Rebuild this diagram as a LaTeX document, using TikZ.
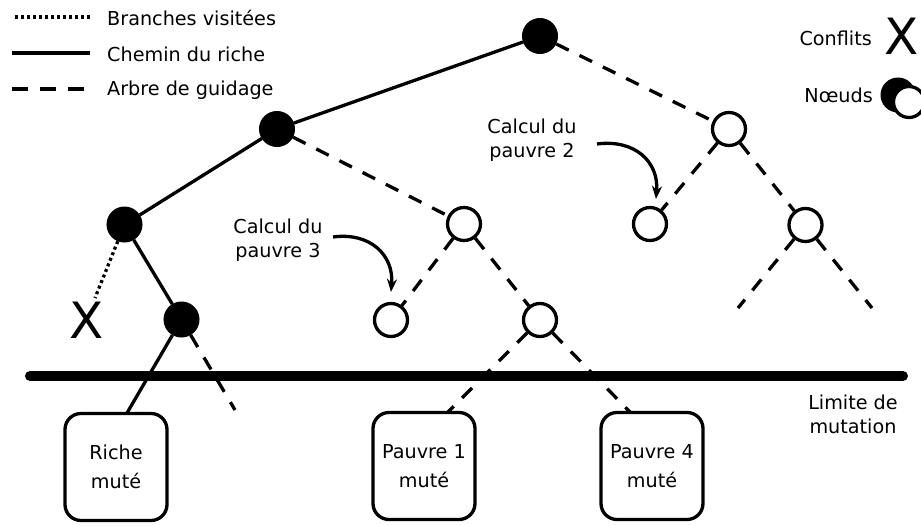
\documentclass[tikz,border=0pt]{standalone}
\usepackage{fontspec}
\setmainfont{DejaVu Sans}
\usetikzlibrary{arrows.meta}
\tikzset{
  txt/.style={font=\fontsize{19.2}{24}\selectfont, inner sep=0pt, align=center},
  bignode/.style={circle, fill=black, draw=black, line width=1pt, minimum size=35pt, inner sep=0pt},
  smallnode/.style={circle, fill=white, draw=black, line width=3.3pt, minimum size=33pt, inner sep=0pt},
  solidl/.style={line width=3.3pt},
  dashl/.style={line width=3.3pt, dash pattern=on 14pt off 12pt},
  dotl/.style={line width=3.3pt, dash pattern=on 3pt off 3pt},
  mbox/.style={draw=black, line width=3.3pt, rounded corners=16pt, minimum width=102pt, minimum height=107pt, inner sep=0pt, font=\fontsize{19.2}{28.5}\selectfont, align=center},
  conflict/.style={font=\fontsize{50}{50}\selectfont, inner sep=0pt},
  callarrow/.style={line width=3.3pt, -{Stealth[length=13pt,width=10pt]}}
}
\begin{document}
\begin{tikzpicture}[x=1pt,y=-1pt]
\useasboundingbox (0,0) rectangle (921,525);
% legend
\coordinate (l1a) at (15,17); \coordinate (l1b) at (90,17);
\coordinate (l2a) at (12,53); \coordinate (l2b) at (90,53);
\coordinate (l3a) at (12,89); \coordinate (l3b) at (92,89);
\draw[dotl] (l1a) -- (l1b);
\draw[solidl] (l2a) -- (l2b);
\draw[dashl, dash pattern=on 16pt off 12pt] (l3a) -- (l3b);
\node[txt, anchor=west] (lt1) at (107,18) {Branches visitées};
\node[txt, anchor=west] (lt2) at (107,54) {Chemin du riche};
\node[txt, anchor=west] (lt3) at (107,90) {Arbre de guidage};
\node[txt, anchor=east] (lconf) at (872,38) {Conflits};
\node[conflict] (lx) at (902,36) {X};
\node[txt, anchor=east] (lnoeud) at (873,95) {Nœuds};
\node[circle, fill=black, minimum size=35pt, inner sep=0pt] (licon1) at (898,95) {};
\node[circle, fill=white, draw=black, line width=3.3pt, minimum size=31pt, inner sep=0pt] (licon2) at (909,102) {};
% tree nodes
\node[bignode] (r) at (540,36) {};
\node[bignode] (a) at (277,129) {};
\node[bignode] (b) at (124.5,224.5) {};
\node[bignode] (c) at (181.5,319.5) {};
\node[smallnode] (w1) at (729,129) {};
\node[smallnode] (w2) at (464,224) {};
\node[smallnode] (w3) at (650,224) {};
\node[smallnode] (w4) at (805.5,225) {};
\node[smallnode] (w5) at (391,320) {};
\node[smallnode] (w6) at (540,320) {};
\node[conflict] (x) at (87,320) {X};
\coordinate (xt) at (95,298);
\coordinate (e1) at (235,410);
\coordinate (e2) at (738,308);
\coordinate (e3) at (872,308);
% boxes
\node[mbox] (riche) at (116,467) {Riche\\muté};
\node[mbox] (p1) at (424,466) {Pauvre 1\\muté};
\node[mbox] (p4) at (652,466) {Pauvre 4\\muté};
\coordinate (rt) at (127,413);
\coordinate (p1t) at (448,412);
\coordinate (p4t) at (630,412);
% limit line
\coordinate (la) at (30,376); \coordinate (lb) at (903,376);
\node[txt] (lim) at (853,414) {Limite de\\mutation};
% connectors
\draw[solidl] (r) -- (a);
\draw[solidl] (a) -- (b);
\draw[solidl] (b) -- (c);
\draw[solidl] (c) -- (rt);
\draw[dotl] (b) -- (xt);
\draw[dashl] (c) -- (e1);
\draw[dashl] (r) -- (w1);
\draw[dashl] (a) -- (w2);
\draw[dashl] (w1) -- (w3);
\draw[dashl] (w1) -- (w4);
\draw[dashl] (w2) -- (w5);
\draw[dashl] (w2) -- (w6);
\draw[dashl] (w6) -- (p1t);
\draw[dashl] (w6) -- (p4t);
\draw[dashl] (w4) -- (e2);
\draw[dashl] (w4) -- (e3);
\draw[line width=10pt, line cap=round] (la) -- (lb);
% annotations
\node[txt] (c3) at (278,240) {Calcul du\\pauvre 3};
\node[txt] (c2) at (532,140) {Calcul du\\pauvre 2};
\coordinate (c3a) at (333,237); \coordinate (c3b) at (391,292);
\coordinate (c2a) at (597,144); \coordinate (c2b) at (656,199);
\draw[callarrow] (c3a) .. controls (370,232) and (394,255) .. (c3b);
\draw[callarrow] (c2a) .. controls (635,139) and (659,162) .. (c2b);
\end{tikzpicture}
\end{document}
